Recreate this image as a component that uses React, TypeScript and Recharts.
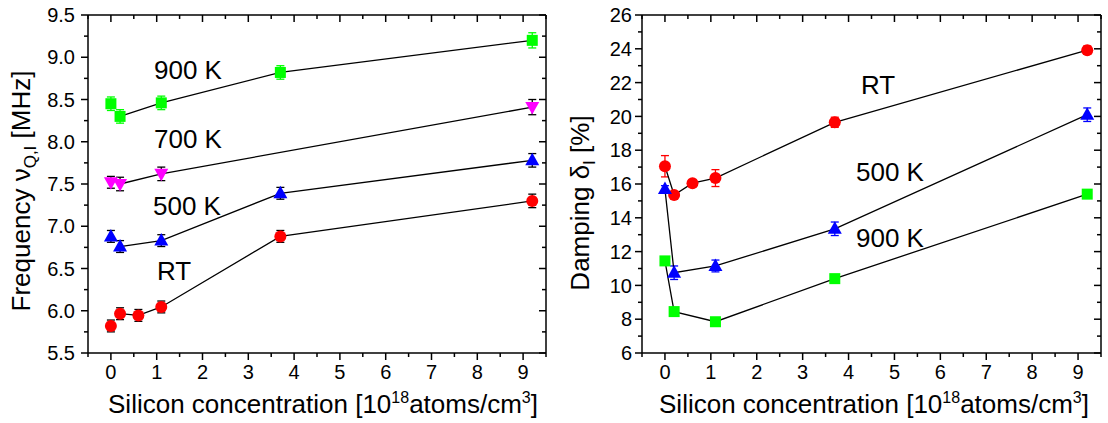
import React from "react";
import { ScatterChart, Scatter, XAxis, YAxis, ErrorBar, ReferenceLine } from "recharts";

const FONT = '"Liberation Sans", Arial, Helvetica, sans-serif';

// silicon concentration [10^18 atoms/cm^3]
const concRT = [0, 0.2, 0.6, 1.1, 3.7, 9.2];
const conc500 = [0, 0.2, 1.1, 3.7, 9.2];
const conc700 = [0, 0.2, 1.1, 9.2];
const conc900 = [0, 0.2, 1.1, 3.7, 9.2];

// frequency nu_Q,I [MHz]
const freqRT = [5.82, 5.965, 5.945, 6.045, 6.88, 7.3];
const freqRTErr = [0.07, 0.07, 0.07, 0.07, 0.07, 0.08];
const freq500 = [6.88, 6.76, 6.83, 7.39, 7.78];
const freq500Err = [0.07, 0.07, 0.07, 0.07, 0.08];
const freq700 = [7.52, 7.5, 7.62, 8.41];
const freq700Err = [0.07, 0.08, 0.08, 0.09];
const freq900 = [8.45, 8.3, 8.46, 8.82, 9.2];
const freq900Err = [0.08, 0.08, 0.08, 0.08, 0.09];

// damping delta_I [%]
const dampRT = [17.05, 15.35, 16.05, 16.35, 19.65, 23.92];
const dampRTErr = [0.63, 0.2, 0.15, 0.5, 0.3, 0.25];
const damp500 = [15.7, 10.75, 11.15, 13.35, 20.1];
const damp500Err = [0.2, 0.4, 0.35, 0.4, 0.4];
const damp900 = [11.45, 8.45, 7.85, 10.4, 15.4];
const damp900Err = [0.1, 0.1, 0.1, 0.1, 0.1];

// ticks
const xTicks = [-0.5, 0, 0.5, 1, 1.5, 2, 2.5, 3, 3.5, 4, 4.5, 5, 5.5, 6, 6.5, 7, 7.5, 8, 8.5, 9, 9.5];
const freqTicks = [5.5, 5.75, 6, 6.25, 6.5, 6.75, 7, 7.25, 7.5, 7.75, 8, 8.25, 8.5, 8.75, 9, 9.25, 9.5];
const dampTicks = [6, 7, 8, 9, 10, 11, 12, 13, 14, 15, 16, 17, 18, 19, 20, 21, 22, 23, 24, 25, 26];

const RED = "#ff0000";
const BLUE = "#0000ff";
const MAGENTA = "#ff00ff";
const GREEN = "#00ff00";

const PLOT_H = 338;

const pts = (xs: number[], ys: number[], es: number[]) =>
  xs.map((x, i) => ({ x, y: ys[i], e: es[i] }));

const isInt = (v: number) => Math.abs(v - Math.round(v)) < 1e-9;

const dot = (color: string) => (p: any) => <circle cx={p.cx} cy={p.cy} r={6} fill={color} />;
const sq = (color: string) => (p: any) => (
  <rect x={p.cx - 5.5} y={p.cy - 5.5} width={11} height={11} fill={color} />
);
const triUp = (color: string) => (p: any) => (
  <polygon
    points={`${p.cx},${p.cy - 7.5} ${p.cx - 7},${p.cy + 5} ${p.cx + 7},${p.cy + 5}`}
    fill={color}
  />
);
const triDown = (color: string) => (p: any) => (
  <polygon
    points={`${p.cx},${p.cy + 7.5} ${p.cx - 7},${p.cy - 5} ${p.cx + 7},${p.cy - 5}`}
    fill={color}
  />
);
const noShape = () => <g />;

function XTick(props: any) {
  const { x, y, payload } = props;
  const v = payload.value;
  const major = isInt(v);
  const len = major ? 7 : 4;
  return (
    <g>
      <line x1={x} y1={y} x2={x} y2={y + len} stroke="#000" strokeWidth={1.5} />
      <line x1={x} y1={y - PLOT_H} x2={x} y2={y - PLOT_H + len} stroke="#000" strokeWidth={1.5} />
      {major && (
        <text x={x} y={y + 12} dy="0.71em" textAnchor="middle" fontSize={20} fontFamily={FONT} fill="#000">
          {v}
        </text>
      )}
    </g>
  );
}

function YTick(props: any) {
  const { x, y, payload, plotW, gap, step, digits } = props;
  const v = payload.value;
  const major = isInt(v / step);
  const len = major ? 7 : 4;
  return (
    <g>
      <line x1={x} y1={y} x2={x - len} y2={y} stroke="#000" strokeWidth={1.5} />
      <line x1={x + plotW} y1={y} x2={x + plotW - len} y2={y} stroke="#000" strokeWidth={1.5} />
      {major && (
        <text x={x - gap} y={y} dy="0.36em" textAnchor="end" fontSize={20} fontFamily={FONT} fill="#000">
          {v.toFixed(digits)}
        </text>
      )}
    </g>
  );
}

const lineStyle = { stroke: "#000", strokeWidth: 1.3 };

function FreqChart() {
  const rt = pts(concRT, freqRT, freqRTErr);
  const k500 = pts(conc500, freq500, freq500Err);
  const k700 = pts(conc700, freq700, freq700Err);
  const k900 = pts(conc900, freq900, freq900Err);
  return (
    <ScatterChart width={560} height={423} margin={{ top: 15, right: 14, bottom: 40, left: 28 }}>
      <XAxis
        type="number"
        dataKey="x"
        domain={[-0.5, 9.5]}
        ticks={xTicks}
        interval={0}
        allowDataOverflow
        tickSize={0}
        tickMargin={0}
        tickLine={false}
        height={30}
        axisLine={{ stroke: "#000", strokeWidth: 1.5 }}
        tick={<XTick />}
      />
      <YAxis
        type="number"
        dataKey="y"
        domain={[5.5, 9.5]}
        ticks={freqTicks}
        interval={0}
        allowDataOverflow
        tickSize={0}
        tickMargin={0}
        tickLine={false}
        width={60}
        axisLine={{ stroke: "#000", strokeWidth: 1.5 }}
        tick={<YTick plotW={458} gap={13} step={0.5} digits={1} />}
      />
      <ReferenceLine y={9.5} stroke="#000" strokeWidth={1.5} />
      <ReferenceLine x={9.5} stroke="#000" strokeWidth={1.5} />
      <Scatter data={rt.slice(1)} line={lineStyle} shape={noShape} isAnimationActive={false} />
      <Scatter data={k500.slice(1)} line={lineStyle} shape={noShape} isAnimationActive={false} />
      <Scatter data={k700.slice(1)} line={lineStyle} shape={noShape} isAnimationActive={false} />
      <Scatter data={k900.slice(1)} line={lineStyle} shape={noShape} isAnimationActive={false} />
      <Scatter data={rt} shape={dot(RED)} isAnimationActive={false}>
        <ErrorBar dataKey="e" direction="y" width={4} stroke="#000" strokeWidth={1.3} />
      </Scatter>
      <Scatter data={k500} shape={triUp(BLUE)} isAnimationActive={false}>
        <ErrorBar dataKey="e" direction="y" width={4} stroke="#000" strokeWidth={1.3} />
      </Scatter>
      <Scatter data={k700} shape={triDown(MAGENTA)} isAnimationActive={false}>
        <ErrorBar dataKey="e" direction="y" width={4} stroke="#000" strokeWidth={1.3} />
      </Scatter>
      <Scatter data={k900} shape={sq(GREEN)} isAnimationActive={false}>
        <ErrorBar dataKey="e" direction="y" width={4} stroke={GREEN} strokeWidth={1.3} />
      </Scatter>
    </ScatterChart>
  );
}

function DampChart() {
  const rt = pts(concRT, dampRT, dampRTErr);
  const k500 = pts(conc500, damp500, damp500Err);
  const k900 = pts(conc900, damp900, damp900Err);
  return (
    <ScatterChart width={560} height={423} margin={{ top: 15, right: 7, bottom: 40, left: 34 }}>
      <XAxis
        type="number"
        dataKey="x"
        domain={[-0.5, 9.5]}
        ticks={xTicks}
        interval={0}
        allowDataOverflow
        tickSize={0}
        tickMargin={0}
        tickLine={false}
        height={30}
        axisLine={{ stroke: "#000", strokeWidth: 1.5 }}
        tick={<XTick />}
      />
      <YAxis
        type="number"
        dataKey="y"
        domain={[6, 26]}
        ticks={dampTicks}
        interval={0}
        allowDataOverflow
        tickSize={0}
        tickMargin={0}
        tickLine={false}
        width={60}
        axisLine={{ stroke: "#000", strokeWidth: 1.5 }}
        tick={<YTick plotW={459} gap={10} step={2} digits={0} />}
      />
      <ReferenceLine y={26} stroke="#000" strokeWidth={1.5} />
      <ReferenceLine x={9.5} stroke="#000" strokeWidth={1.5} />
      <Scatter data={rt} line={lineStyle} shape={noShape} isAnimationActive={false} />
      <Scatter data={k500} line={lineStyle} shape={noShape} isAnimationActive={false} />
      <Scatter data={k900} line={lineStyle} shape={noShape} isAnimationActive={false} />
      <Scatter data={rt} shape={dot(RED)} isAnimationActive={false}>
        <ErrorBar dataKey="e" direction="y" width={4} stroke={RED} strokeWidth={1.3} />
      </Scatter>
      <Scatter data={k500} shape={triUp(BLUE)} isAnimationActive={false}>
        <ErrorBar dataKey="e" direction="y" width={4} stroke={BLUE} strokeWidth={1.3} />
      </Scatter>
      <Scatter data={k900} shape={sq(GREEN)} isAnimationActive={false}>
        <ErrorBar dataKey="e" direction="y" width={4} stroke={GREEN} strokeWidth={1.3} />
      </Scatter>
    </ScatterChart>
  );
}

function Titles() {
  const t = { fontFamily: FONT, fill: "#000" };
  return (
    <svg
      width={1108}
      height={423}
      style={{ position: "absolute", left: 0, top: 0, pointerEvents: "none" }}
    >
      {/* axis titles */}
      <text {...t} fontSize={26} x={323} y={413} textAnchor="middle">
        Silicon concentration [10<tspan fontSize={16} dy={-10}>18</tspan>
        <tspan dy={10}>atoms/cm</tspan>
        <tspan fontSize={16} dy={-10}>3</tspan>
        <tspan dy={10}>]</tspan>
      </text>
      <text {...t} fontSize={26} x={874} y={413} textAnchor="middle">
        Silicon concentration [10<tspan fontSize={16} dy={-10}>18</tspan>
        <tspan dy={10}>atoms/cm</tspan>
        <tspan fontSize={16} dy={-10}>3</tspan>
        <tspan dy={10}>]</tspan>
      </text>
      <text {...t} fontSize={26} transform="rotate(-90)" x={-191} y={30} textAnchor="middle">
        Frequency ν<tspan fontSize={17} dy={6}>Q,I</tspan>
        <tspan dy={-6}> [MHz]</tspan>
      </text>
      <text {...t} fontSize={26} transform="rotate(-90)" x={-203} y={589} textAnchor="middle">
        Damping δ<tspan fontSize={17} dy={6}>I</tspan>
        <tspan dy={-6}> [%]</tspan>
      </text>
      {/* series annotations */}
      <text {...t} fontSize={26} x={154} y={79}>900 K</text>
      <text {...t} fontSize={26} x={154} y={148}>700 K</text>
      <text {...t} fontSize={26} x={153} y={215}>500 K</text>
      <text {...t} fontSize={26} x={157} y={280}>RT</text>
      <text {...t} fontSize={26} x={861} y={94}>RT</text>
      <text {...t} fontSize={26} x={856} y={181}>500 K</text>
      <text {...t} fontSize={26} x={856} y={247}>900 K</text>
    </svg>
  );
}

export default function App() {
  return (
    <div style={{ position: "absolute", left: 0, top: 0, width: 1108, height: 423, background: "#fff" }}>
      <div style={{ position: "absolute", left: 0, top: 0 }}>
        <FreqChart />
      </div>
      <div style={{ position: "absolute", left: 548, top: 0 }}>
        <DampChart />
      </div>
      <Titles />
    </div>
  );
}
